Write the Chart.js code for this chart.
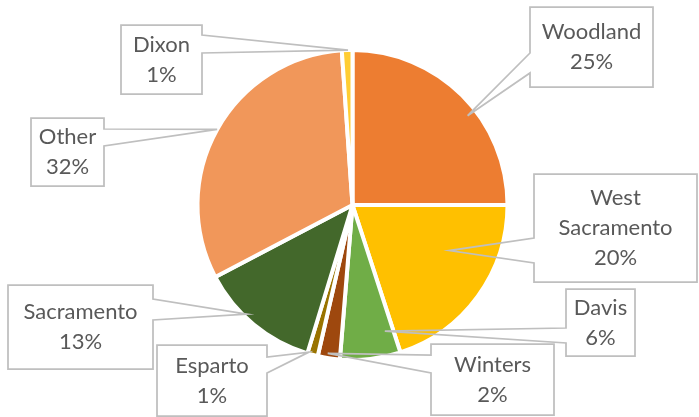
<!DOCTYPE html>
<html lang="en">

<head>
    <meta charset="UTF-8">
    <title>Cities pie</title>
    <style>
        html, body { margin: 0; padding: 0; background: #fff; }
        .wrap-chart { width: 699px; height: 417px; }
    </style>
</head>

<body>
    <div class="wrap-chart">
        <canvas id="myChart"></canvas>
    </div>

    <script src="https://cdn.jsdelivr.net/npm/chart.js"></script>

    <script>
        // data (percent of total)
        const cities = ['Woodland', 'West Sacramento', 'Davis', 'Winters', 'Esparto', 'Sacramento', 'Other', 'Dixon'];
        const shares = [25, 20, 6.3, 2.3, 1.1, 12.6, 31.6, 1.1];
        const colors = ['#ED7D31', '#FFC000', '#70AD47', '#9E480E', '#997300', '#43682B', '#F1975A', '#FFCD33'];

        // callout boxes: box rect, which side the pointer leaves from, pointer base (y),
        // and where the tip sits inside its slice (t = along the arc, k = share of radius)
        const callouts = [
            { lines: ['Woodland'], box: [530, 7, 123, 80], side: 'left', base: [53, 73], t: 0.58, k: 0.94 },
            { lines: ['West', 'Sacramento'], box: [534, 174, 163, 108], side: 'left', base: [238, 263], t: 0.35, k: 0.69 },
            { lines: ['Davis'], box: [566, 289, 69, 67], side: 'left', base: [328, 343], t: 0.16, k: 0.84 },
            { lines: ['Winters'], box: [431, 344, 123, 71], side: 'left', base: [355, 373], t: 0.58, k: 0.97 },
            { lines: ['Esparto'], box: [157, 345, 110, 71], side: 'right', base: [357, 373], t: 0.9, k: 0.99 },
            { lines: ['Sacramento'], box: [8, 285, 145, 84], side: 'right', base: [299, 320], t: 0.6, k: 0.98 },
            { lines: ['Other'], box: [31, 118, 73, 68], side: 'right', base: [129, 146], t: 0.5, k: 1.0 },
            { lines: ['Dixon'], box: [121, 25, 81, 69], side: 'right', base: [35, 53], t: 0.58, k: 1.0 },
        ];

        const total = shares.reduce((a, b) => a + b, 0);

        const calloutPlugin = {
            id: 'callouts',
            afterDatasetsDraw(chart) {
                const { ctx } = chart;
                const arcs = chart.getDatasetMeta(0).data;
                ctx.save();
                arcs.forEach((arc, i) => {
                    const c = callouts[i];
                    if (!c) return;
                    const p = arc.getProps(['x', 'y', 'startAngle', 'endAngle', 'outerRadius'], true);
                    const a = p.startAngle + c.t * (p.endAngle - p.startAngle);
                    const tx = p.x + Math.cos(a) * p.outerRadius * c.k;
                    const ty = p.y + Math.sin(a) * p.outerRadius * c.k;
                    const [bx, by, bw, bh] = c.box;
                    const r = bx + bw, b = by + bh;

                    ctx.beginPath();
                    if (c.side === 'left') {
                        ctx.moveTo(bx, by);
                        ctx.lineTo(r, by);
                        ctx.lineTo(r, b);
                        ctx.lineTo(bx, b);
                        ctx.lineTo(bx, c.base[1]);
                        ctx.lineTo(tx, ty);
                        ctx.lineTo(bx, c.base[0]);
                        ctx.closePath();
                    } else {
                        ctx.moveTo(bx, by);
                        ctx.lineTo(r, by);
                        ctx.lineTo(r, c.base[0]);
                        ctx.lineTo(tx, ty);
                        ctx.lineTo(r, c.base[1]);
                        ctx.lineTo(r, b);
                        ctx.lineTo(bx, b);
                        ctx.closePath();
                    }
                    ctx.strokeStyle = '#BFBFBF';
                    ctx.lineWidth = 1.75;
                    ctx.stroke();

                    const text = c.lines.concat([Math.round(shares[i] / total * 100) + '%']);
                    ctx.fillStyle = '#595959';
                    ctx.font = '22px Lato';
                    ctx.textAlign = 'center';
                    ctx.textBaseline = 'middle';
                    const lh = 30;
                    const cy = by + bh / 2 - (text.length - 1) * lh / 2;
                    text.forEach((s, j) => ctx.fillText(s, bx + bw / 2, cy + j * lh));
                });
                ctx.restore();
            }
        };

        new Chart(document.getElementById('myChart'), {
            type: 'pie',
            data: {
                labels: cities,
                datasets: [{
                    data: shares,
                    backgroundColor: colors,
                    borderColor: '#ffffff',
                    borderWidth: 4,
                }]
            },
            plugins: [calloutPlugin],
            options: {
                responsive: true,
                maintainAspectRatio: false,
                animation: false,
                radius: 155,
                layout: { padding: { left: 40, right: 34, top: 20, bottom: 27 } },
                plugins: {
                    legend: { display: false },
                    tooltip: { enabled: false }
                }
            }
        });
    </script>
</body>

</html>
